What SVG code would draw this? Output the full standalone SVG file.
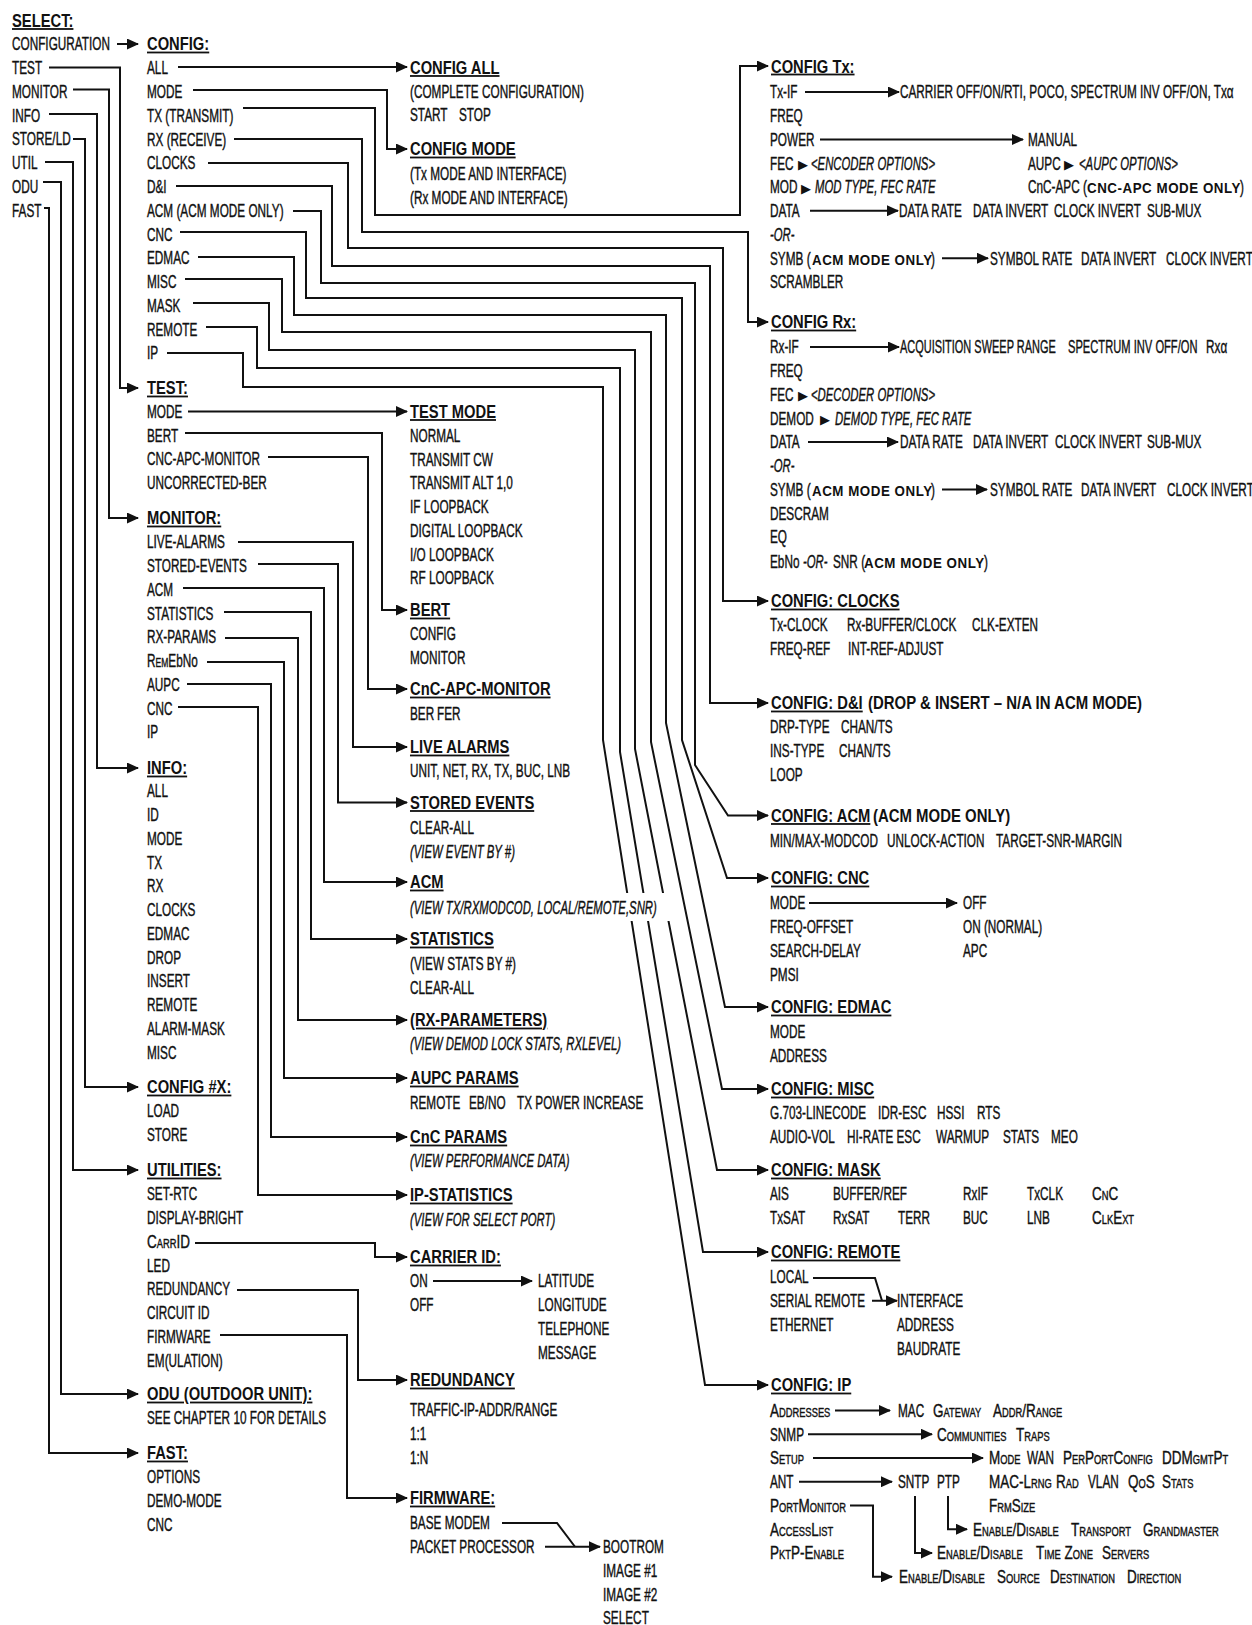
<svg xmlns="http://www.w3.org/2000/svg" width="1252" height="1625" viewBox="0 0 1252 1625">
<style>
text { font-family: "Liberation Sans", Arial, sans-serif; fill: #111; transform-box: fill-box; transform-origin: 0 0; }
.t { font-size: 18px; transform: scaleX(0.655); stroke: #111; stroke-width: 0.4px; }
.i { font-size: 18px; font-style: italic; transform: scaleX(0.63); stroke: #111; stroke-width: 0.4px; }
.s { font-size: 18px; font-variant: small-caps; transform: scaleX(0.75); stroke: #111; stroke-width: 0.4px; }
.h { font-size: 18px; font-weight: bold; text-decoration: underline; transform: scaleX(0.82); }
.b { font-size: 18px; font-weight: bold; transform: scaleX(0.83); }
.w { font-size: 15px; font-weight: bold; letter-spacing: 0.6px; transform: scaleX(0.89); }
.g { font-family: "DejaVu Sans", sans-serif; font-size: 13px; }
.c path { fill: none; stroke: #111; stroke-width: 2; }
.c path.a { marker-end: url(#ah); }
.sc { font-variant: small-caps; }
</style>
<defs>
<marker id="ah" markerWidth="12" markerHeight="11" refX="11" refY="5.5" orient="auto" markerUnits="userSpaceOnUse">
<path d="M0,0 L12,5.5 L0,11 z" fill="#111"/>
</marker>
</defs>
<rect x="0" y="0" width="1252" height="1625" fill="#fff"/>

<g id="connectors" class="c">
<path class="a" d="M117,44 H138"/>
<path class="a" d="M49,67.5 H120 V388 H138"/>
<path class="a" d="M73,89.5 H109 V518 H138"/>
<path class="a" d="M49,114 H97 V768 H138"/>
<path class="a" d="M73,139 H85 V1087 H138"/>
<path class="a" d="M45,162 H73 V1170 H138"/>
<path class="a" d="M43,182 H61 V1394 H138"/>
<path class="a" d="M44,208 H49 V1453 H138"/>
<path class="a" d="M178,67 H407"/>
<path class="a" d="M193,90 H387 V149 H407"/>
<path class="a" d="M243,108 H375 V215 H740 V66 H768"/>
<path class="a" d="M234,139 H362 V232 H748 V322 H768"/>
<path class="a" d="M208,163 H348 V248 H723 V601 H768"/>
<path class="a" d="M176,186 H332 V266 H710 V703 H768"/>
<path class="a" d="M293,211 H321 V283 H695 V765 L728,815.5 H768"/>
<path class="a" d="M180,232 H306 V298 H682 V740 L727,878 H768"/>
<path class="a" d="M198,257 H294 V315 H666 V723 L725,1007 H768"/>
<path class="a" d="M185,279 H282 V332 H651 V742 L722,1089 H768"/>
<path class="a" d="M193,303 H269 V350 H635 V749 L717,1170 H768"/>
<path class="a" d="M206,327 H257 V368 H620 V752 L703,1252 H768"/>
<path class="a" d="M167,353 H243 V387 H603 V740 L705,1385 H768"/>
<path class="a" d="M188,411.5 H407"/>
<path class="a" d="M185,433 H382 V610 H407"/>
<path class="a" d="M268,457 H368 V689 H407"/>
<path class="a" d="M238,542 H353 V747 H407"/>
<path class="a" d="M258,564 H338 V802.5 H407"/>
<path class="a" d="M183,588 H324 V882 H407"/>
<path class="a" d="M224,612 H311 V939 H407"/>
<path class="a" d="M225,638 H298 V1020 H407"/>
<path class="a" d="M207,662 H284 V1078 H407"/>
<path class="a" d="M187,684 H271 V1137 H407"/>
<path class="a" d="M178,707 H258 V1195 H407"/>
<path class="a" d="M195,1243 H375 V1257 H407"/>
<path class="a" d="M237,1290 H358 V1380 H407"/>
<path class="a" d="M220,1335 H347 V1498 H407"/>
<path class="a" d="M805,92 H899"/>
<path class="a" d="M820,139.5 H1023"/>
<path class="a" d="M810,210.75 H898"/>
<path class="a" d="M942,258.25 H988"/>
<path class="a" d="M810,347 H899"/>
<path class="a" d="M808,442 H898"/>
<path class="a" d="M942,489.5 H987"/>
<path class="a" d="M809,903 H957"/>
<path class="a" d="M433,1281 H532"/>
<path d="M502,1523 H557 L575,1546.75"/>
<path class="a" d="M545,1546.75 H600"/>
<path d="M813,1278 H875 L882,1300.75"/>
<path class="a" d="M872,1300.75 H897"/>
<path class="a" d="M835,1410.5 H890"/>
<path class="a" d="M808,1434.25 H932"/>
<path class="a" d="M813,1458 H983"/>
<path class="a" d="M799,1481.75 H892"/>
<path class="a" d="M915,1496 V1553 H932"/>
<path class="a" d="M948,1496 V1529.25 H967"/>
<path class="a" d="M850,1505.5 H873 V1576.75 H892"/>
</g>

<g id="select">
<text class="h" x="12" y="27">SELECT:</text>
<text class="t" x="12" y="50.5">CONFIGURATION</text>
<text class="t" x="12" y="74.25">TEST</text>
<text class="t" x="12" y="98">MONITOR</text>
<text class="t" x="12" y="121.75">INFO</text>
<text class="t" x="12" y="145.5">STORE/LD</text>
<text class="t" x="12" y="169.25">UTIL</text>
<text class="t" x="12" y="193">ODU</text>
<text class="t" x="12" y="216.75">FAST</text>
</g>

<g id="config">
<text class="h" x="147" y="50.5">CONFIG:</text>
<text class="t" x="147" y="74.5">ALL</text>
<text class="t" x="147" y="98.25">MODE</text>
<text class="t" x="147" y="122">TX (TRANSMIT)</text>
<text class="t" x="147" y="145.75">RX (RECEIVE)</text>
<text class="t" x="147" y="169.5">CLOCKS</text>
<text class="t" x="147" y="193.25">D&amp;I</text>
<text class="t" x="147" y="217">ACM (ACM MODE ONLY)</text>
<text class="t" x="147" y="240.75">CNC</text>
<text class="t" x="147" y="264.5">EDMAC</text>
<text class="t" x="147" y="288.25">MISC</text>
<text class="t" x="147" y="312">MASK</text>
<text class="t" x="147" y="335.75">REMOTE</text>
<text class="t" x="147" y="359.5">IP</text>
</g>

<g id="test">
<text class="h" x="147" y="394.5">TEST:</text>
<text class="t" x="147" y="418">MODE</text>
<text class="t" x="147" y="441.75">BERT</text>
<text class="t" x="147" y="465.5">CNC-APC-MONITOR</text>
<text class="t" x="147" y="489.25">UNCORRECTED-BER</text>
</g>

<g id="monitor">
<text class="h" x="147" y="524.5">MONITOR:</text>
<text class="t" x="147" y="548.5">LIVE-ALARMS</text>
<text class="t" x="147" y="572.25">STORED-EVENTS</text>
<text class="t" x="147" y="596">ACM</text>
<text class="t" x="147" y="619.75">STATISTICS</text>
<text class="t" x="147" y="643.5">RX-PARAMS</text>
<text class="t" x="147" y="667.25">R<tspan class="sc">em</tspan>EbNo</text>
<text class="t" x="147" y="691">AUPC</text>
<text class="t" x="147" y="714.75">CNC</text>
<text class="t" x="147" y="738.5">IP</text>
</g>

<g id="info">
<text class="h" x="147" y="774.5">INFO:</text>
<text class="t" x="147" y="797.5">ALL</text>
<text class="t" x="147" y="821.25">ID</text>
<text class="t" x="147" y="845">MODE</text>
<text class="t" x="147" y="868.75">TX</text>
<text class="t" x="147" y="892.5">RX</text>
<text class="t" x="147" y="916.25">CLOCKS</text>
<text class="t" x="147" y="940">EDMAC</text>
<text class="t" x="147" y="963.75">DROP</text>
<text class="t" x="147" y="987.5">INSERT</text>
<text class="t" x="147" y="1011.25">REMOTE</text>
<text class="t" x="147" y="1035">ALARM-MASK</text>
<text class="t" x="147" y="1058.75">MISC</text>
</g>

<g id="config-x">
<text class="h" x="147" y="1093.5">CONFIG #X:</text>
<text class="t" x="147" y="1117.5">LOAD</text>
<text class="t" x="147" y="1141.25">STORE</text>
</g>

<g id="utilities">
<text class="h" x="147" y="1176.5">UTILITIES:</text>
<text class="t" x="147" y="1200.5">SET-RTC</text>
<text class="t" x="147" y="1224.25">DISPLAY-BRIGHT</text>
<text class="s" x="147" y="1248">CarrID</text>
<text class="t" x="147" y="1271.75">LED</text>
<text class="t" x="147" y="1295.5">REDUNDANCY</text>
<text class="t" x="147" y="1319.25">CIRCUIT ID</text>
<text class="t" x="147" y="1343">FIRMWARE</text>
<text class="t" x="147" y="1366.75">EM(ULATION)</text>
</g>

<g id="odu">
<text class="h" x="147" y="1400.5">ODU (OUTDOOR UNIT):</text>
<text class="t" x="147" y="1424.5">SEE CHAPTER 10 FOR DETAILS</text>
</g>

<g id="fast">
<text class="h" x="147" y="1459.5">FAST:</text>
<text class="t" x="147" y="1483.5">OPTIONS</text>
<text class="t" x="147" y="1507.25">DEMO-MODE</text>
<text class="t" x="147" y="1531">CNC</text>
</g>

<g id="config-all">
<text class="h" x="410" y="74">CONFIG ALL</text>
<text class="t" x="410" y="98">(COMPLETE CONFIGURATION)</text>
<text class="t" x="410" y="121.5">START</text>
<text class="t" x="459" y="121.5">STOP</text>
</g>

<g id="config-mode">
<text class="h" x="410" y="155.5">CONFIG MODE</text>
<text class="t" x="410" y="180">(Tx MODE AND INTERFACE)</text>
<text class="t" x="410" y="203.75">(Rx MODE AND INTERFACE)</text>
</g>

<g id="test-mode">
<text class="h" x="410" y="418">TEST MODE</text>
<text class="t" x="410" y="442">NORMAL</text>
<text class="t" x="410" y="465.75">TRANSMIT CW</text>
<text class="t" x="410" y="489.5">TRANSMIT ALT 1,0</text>
<text class="t" x="410" y="513.25">IF LOOPBACK</text>
<text class="t" x="410" y="537">DIGITAL LOOPBACK</text>
<text class="t" x="410" y="560.75">I/O LOOPBACK</text>
<text class="t" x="410" y="584.5">RF LOOPBACK</text>
</g>

<g id="bert">
<text class="h" x="410" y="616.5">BERT</text>
<text class="t" x="410" y="640.5">CONFIG</text>
<text class="t" x="410" y="664.25">MONITOR</text>
</g>

<g id="cnc-apc-monitor">
<text class="h" x="410" y="695.5">CnC-APC-MONITOR</text>
<text class="t" x="410" y="720">BER</text>
<text class="t" x="437" y="720">FER</text>
</g>

<g id="live-alarms">
<text class="h" x="410" y="753.5">LIVE ALARMS</text>
<text class="t" x="410" y="777.5">UNIT, NET, RX, TX, BUC, LNB</text>
</g>

<g id="stored-events">
<text class="h" x="410" y="809">STORED EVENTS</text>
<text class="t" x="410" y="834">CLEAR-ALL</text>
<text class="i" x="410" y="858">(VIEW EVENT BY #)</text>
</g>

<g id="acm">
<rect x="600" y="893" width="72" height="28" fill="#fff"/>
<text class="h" x="410" y="888.5">ACM</text>
<text class="i" x="410" y="914.5">(VIEW TX/RXMODCOD, LOCAL/REMOTE,SNR)</text>
</g>

<g id="statistics">
<text class="h" x="410" y="945.5">STATISTICS</text>
<text class="t" x="410" y="970.5">(VIEW STATS BY #)</text>
<text class="t" x="410" y="994.25">CLEAR-ALL</text>
</g>

<g id="rx-parameters">
<text class="h" x="410" y="1026.5">(RX-PARAMETERS)</text>
<text class="i" x="410" y="1050.5">(VIEW DEMOD LOCK STATS, RXLEVEL)</text>
</g>

<g id="aupc-params">
<text class="h" x="410" y="1084.5">AUPC PARAMS</text>
<text class="t" x="410" y="1109.5">REMOTE</text>
<text class="t" x="469" y="1109.5">EB/NO</text>
<text class="t" x="517" y="1109.5">TX POWER INCREASE</text>
</g>

<g id="cnc-params">
<text class="h" x="410" y="1143.5">CnC PARAMS</text>
<text class="i" x="410" y="1167.5">(VIEW PERFORMANCE DATA)</text>
</g>

<g id="ip-statistics">
<text class="h" x="410" y="1201.5">IP-STATISTICS</text>
<text class="i" x="410" y="1226.5">(VIEW FOR SELECT PORT)</text>
</g>

<g id="carrier-id">
<text class="h" x="410" y="1263.5">CARRIER ID:</text>
<text class="t" x="410" y="1287.5">ON</text>
<text class="t" x="410" y="1311.25">OFF</text>
<text class="t" x="538" y="1287.5">LATITUDE</text>
<text class="t" x="538" y="1311.25">LONGITUDE</text>
<text class="t" x="538" y="1335">TELEPHONE</text>
<text class="t" x="538" y="1358.75">MESSAGE</text>
</g>

<g id="redundancy">
<text class="h" x="410" y="1386.5">REDUNDANCY</text>
<text class="t" x="410" y="1416.5">TRAFFIC-IP-ADDR/RANGE</text>
<text class="t" x="410" y="1440.25">1:1</text>
<text class="t" x="410" y="1464">1:N</text>
</g>

<g id="firmware">
<text class="h" x="410" y="1504.5">FIRMWARE:</text>
<text class="t" x="410" y="1529.5">BASE MODEM</text>
<text class="t" x="410" y="1553.25">PACKET PROCESSOR</text>
<text class="t" x="603" y="1553.25">BOOTROM</text>
<text class="t" x="603" y="1577">IMAGE #1</text>
<text class="t" x="603" y="1600.75">IMAGE #2</text>
<text class="t" x="603" y="1624">SELECT</text>
</g>

<g id="config-tx">
<text class="h" x="771" y="72.5">CONFIG Tx:</text>
<text class="t" x="770" y="98.5">Tx-IF</text>
<text class="t" x="900" y="98.5">CARRIER OFF/ON/RTI, POCO, SPECTRUM INV OFF/ON, Txα</text>
<text class="t" x="770" y="122.25">FREQ</text>
<text class="t" x="770" y="146">POWER</text>
<text class="t" x="1028" y="146">MANUAL</text>
<text class="t" x="770" y="169.75">FEC</text>
<text class="g" x="798" y="169">▶</text>
<text class="i" x="811" y="169.75">&lt;ENCODER OPTIONS&gt;</text>
<text class="t" x="1028" y="169.75">AUPC</text>
<text class="g" x="1064" y="169">▶</text>
<text class="i" x="1079" y="169.75">&lt;AUPC OPTIONS&gt;</text>
<text class="t" x="770" y="193.5">MOD</text>
<text class="g" x="801" y="192.75">▶</text>
<text class="i" x="815" y="193.5">MOD TYPE, FEC RATE</text>
<text class="t" x="1028" y="193.5">CnC-APC (</text>
<text class="w" x="1087" y="193.5">CNC-APC MODE ONLY</text>
<text class="t" x="1240" y="193.5">)</text>
<text class="t" x="770" y="217.25">DATA</text>
<text class="t" x="899" y="217.25">DATA RATE</text>
<text class="t" x="973" y="217.25">DATA INVERT</text>
<text class="t" x="1054" y="217.25">CLOCK INVERT</text>
<text class="t" x="1147" y="217.25">SUB-MUX</text>
<text class="i" x="770" y="241">-OR-</text>
<text class="t" x="770" y="264.75">SYMB (</text>
<text class="w" x="812" y="264.75">ACM MODE ONLY</text>
<text class="t" x="931" y="264.75">)</text>
<text class="t" x="990" y="264.75">SYMBOL RATE</text>
<text class="t" x="1081" y="264.75">DATA INVERT</text>
<text class="t" x="1166" y="264.75">CLOCK INVERT</text>
<text class="t" x="770" y="288.5">SCRAMBLER</text>
</g>

<g id="config-rx">
<text class="h" x="771" y="328.5">CONFIG Rx:</text>
<text class="t" x="770" y="353.5">Rx-IF</text>
<text class="t" x="900" y="353.5" style="transform: scaleX(0.61)">ACQUISITION SWEEP RANGE</text>
<text class="t" x="1068" y="353.5" style="transform: scaleX(0.62)">SPECTRUM INV OFF/ON</text>
<text class="t" x="1206" y="353.5">Rxα</text>
<text class="t" x="770" y="377.25">FREQ</text>
<text class="t" x="770" y="401">FEC</text>
<text class="g" x="798" y="400.25">▶</text>
<text class="i" x="811" y="401">&lt;DECODER OPTIONS&gt;</text>
<text class="t" x="770" y="424.75">DEMOD</text>
<text class="g" x="820" y="424">▶</text>
<text class="i" x="835" y="424.75">DEMOD TYPE, FEC RATE</text>
<text class="t" x="770" y="448.5">DATA</text>
<text class="t" x="900" y="448.5">DATA RATE</text>
<text class="t" x="973" y="448.5">DATA INVERT</text>
<text class="t" x="1055" y="448.5">CLOCK INVERT</text>
<text class="t" x="1147" y="448.5">SUB-MUX</text>
<text class="i" x="770" y="472.25">-OR-</text>
<text class="t" x="770" y="496">SYMB (</text>
<text class="w" x="812" y="496">ACM MODE ONLY</text>
<text class="t" x="931" y="496">)</text>
<text class="t" x="990" y="496">SYMBOL RATE</text>
<text class="t" x="1081" y="496">DATA INVERT</text>
<text class="t" x="1167" y="496">CLOCK INVERT</text>
<text class="t" x="770" y="519.75">DESCRAM</text>
<text class="t" x="770" y="543.5">EQ</text>
<text class="t" x="770" y="568">EbNo</text>
<text class="i" x="803" y="568">-OR-</text>
<text class="t" x="833" y="568">SNR (</text>
<text class="w" x="864" y="568">ACM MODE ONLY</text>
<text class="t" x="984" y="568">)</text>
</g>

<g id="config-clocks">
<text class="h" x="771" y="607.5">CONFIG: CLOCKS</text>
<text class="t" x="770" y="631.5">Tx-CLOCK</text>
<text class="t" x="847" y="631.5">Rx-BUFFER/CLOCK</text>
<text class="t" x="972" y="631.5">CLK-EXTEN</text>
<text class="t" x="770" y="655.25">FREQ-REF</text>
<text class="t" x="848" y="655.25">INT-REF-ADJUST</text>
</g>

<g id="config-di">
<text class="h" x="771" y="709.5">CONFIG: D&amp;I</text>
<text class="b" x="868" y="709.5">(DROP &amp; INSERT – N/A IN ACM MODE)</text>
<text class="t" x="770" y="733.5">DRP-TYPE</text>
<text class="t" x="841" y="733.5">CHAN/TS</text>
<text class="t" x="770" y="757.25">INS-TYPE</text>
<text class="t" x="839" y="757.25">CHAN/TS</text>
<text class="t" x="770" y="781">LOOP</text>
</g>

<g id="config-acm">
<text class="h" x="771" y="822">CONFIG: ACM</text>
<text class="b" x="873" y="822">(ACM MODE ONLY)</text>
<text class="t" x="770" y="847.5">MIN/MAX-MODCOD</text>
<text class="t" x="887" y="847.5">UNLOCK-ACTION</text>
<text class="t" x="996" y="847.5">TARGET-SNR-MARGIN</text>
</g>

<g id="config-cnc">
<text class="h" x="771" y="884.5">CONFIG: CNC</text>
<text class="t" x="770" y="909.5">MODE</text>
<text class="t" x="963" y="909.5">OFF</text>
<text class="t" x="770" y="933.25">FREQ-OFFSET</text>
<text class="t" x="963" y="933.25">ON (NORMAL)</text>
<text class="t" x="770" y="957">SEARCH-DELAY</text>
<text class="t" x="963" y="957">APC</text>
<text class="t" x="770" y="980.75">PMSI</text>
</g>

<g id="config-edmac">
<text class="h" x="771" y="1013.5">CONFIG: EDMAC</text>
<text class="t" x="770" y="1038.5">MODE</text>
<text class="t" x="770" y="1062.25">ADDRESS</text>
</g>

<g id="config-misc">
<text class="h" x="771" y="1095.5">CONFIG: MISC</text>
<text class="t" x="770" y="1119.5">G.703-LINECODE</text>
<text class="t" x="878" y="1119.5">IDR-ESC</text>
<text class="t" x="937" y="1119.5">HSSI</text>
<text class="t" x="977" y="1119.5">RTS</text>
<text class="t" x="770" y="1143.25">AUDIO-VOL</text>
<text class="t" x="847" y="1143.25">HI-RATE ESC</text>
<text class="t" x="936" y="1143.25">WARMUP</text>
<text class="t" x="1003" y="1143.25">STATS</text>
<text class="t" x="1051" y="1143.25">MEO</text>
</g>

<g id="config-mask">
<text class="h" x="771" y="1176.5">CONFIG: MASK</text>
<text class="t" x="770" y="1200.5">AIS</text>
<text class="t" x="833" y="1200.5">BUFFER/REF</text>
<text class="t" x="963" y="1200.5">RxIF</text>
<text class="t" x="1027" y="1200.5">TxCLK</text>
<text class="s" x="1092" y="1200.5">CnC</text>
<text class="t" x="770" y="1224.25">TxSAT</text>
<text class="t" x="833" y="1224.25">RxSAT</text>
<text class="t" x="898" y="1224.25">TERR</text>
<text class="t" x="963" y="1224.25">BUC</text>
<text class="t" x="1027" y="1224.25">LNB</text>
<text class="s" x="1092" y="1224.25">ClkExt</text>
</g>

<g id="config-remote">
<text class="h" x="771" y="1258.5">CONFIG: REMOTE</text>
<text class="t" x="770" y="1283.5">LOCAL</text>
<text class="t" x="770" y="1307.25">SERIAL REMOTE</text>
<text class="t" x="770" y="1331">ETHERNET</text>
<text class="t" x="897" y="1307.25">INTERFACE</text>
<text class="t" x="897" y="1331">ADDRESS</text>
<text class="t" x="897" y="1354.75">BAUDRATE</text>
</g>

<g id="config-ip">
<text class="h" x="771" y="1391.5">CONFIG: IP</text>
<text class="s" x="770" y="1417">Addresses</text>
<text class="t" x="898" y="1417">MAC</text>
<text class="s" x="933" y="1417">Gateway</text>
<text class="s" x="993" y="1417">Addr/Range</text>
<text class="t" x="770" y="1440.75">SNMP</text>
<text class="s" x="937" y="1440.75">Communities</text>
<text class="s" x="1016" y="1440.75">Traps</text>
<text class="s" x="770" y="1464.5">Setup</text>
<text class="s" x="989" y="1464.5">Mode</text>
<text class="t" x="1027" y="1464.5">WAN</text>
<text class="s" x="1063" y="1464.5">PerPortConfig</text>
<text class="s" x="1162" y="1464.5">DDMgmtPt</text>
<text class="t" x="770" y="1488.25">ANT</text>
<text class="t" x="898" y="1488.25">SNTP</text>
<text class="t" x="937" y="1488.25">PTP</text>
<text class="s" x="989" y="1488.25">MAC-Lrng</text>
<text class="s" x="1056" y="1488.25">Rad</text>
<text class="t" x="1088" y="1488.25">VLAN</text>
<text class="s" x="1128" y="1488.25">QoS</text>
<text class="s" x="1162" y="1488.25">Stats</text>
<text class="s" x="770" y="1512">PortMonitor</text>
<text class="s" x="989" y="1512">FrmSize</text>
<text class="s" x="770" y="1535.75">AccessList</text>
<text class="s" x="973" y="1535.75">Enable/Disable</text>
<text class="s" x="1071" y="1535.75">Transport</text>
<text class="s" x="1143" y="1535.75">Grandmaster</text>
<text class="s" x="770" y="1559.5">PktP-Enable</text>
<text class="s" x="937" y="1559.5">Enable/Disable</text>
<text class="s" x="1036" y="1559.5">Time Zone</text>
<text class="s" x="1102" y="1559.5">Servers</text>
<text class="s" x="899" y="1583.25">Enable/Disable</text>
<text class="s" x="997" y="1583.25">Source</text>
<text class="s" x="1050" y="1583.25">Destination</text>
<text class="s" x="1127" y="1583.25">Direction</text>
</g>
</svg>
